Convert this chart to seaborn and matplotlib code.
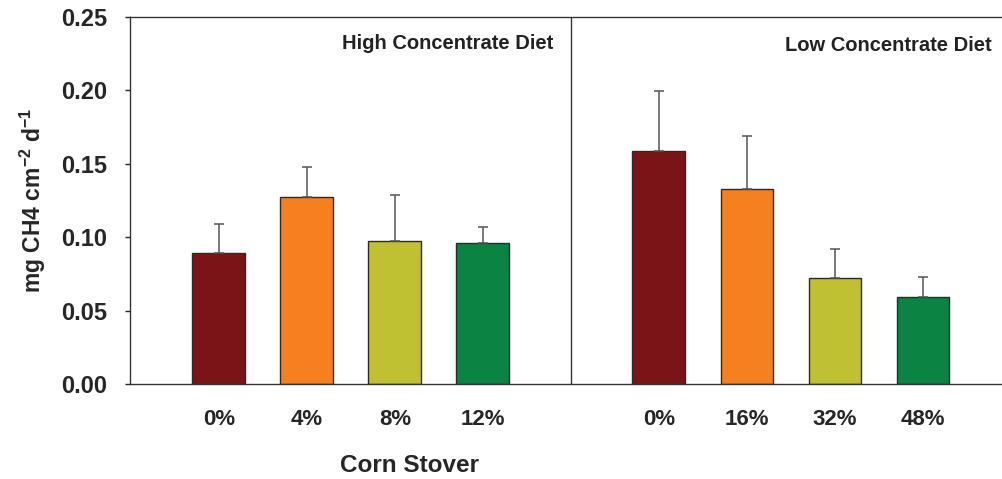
import pandas as pd
import matplotlib.pyplot as plt
import seaborn as sns

# values
diets = ["High Concentrate Diet", "Low Concentrate Diet"]
stover_high = ["0%", "4%", "8%", "12%"]
stover_low = ["0%", "16%", "32%", "48%"]
ch4_high = [0.0892, 0.1276, 0.0973, 0.0961]
ch4_low = [0.1589, 0.1326, 0.0721, 0.0591]
err_high = [0.0198, 0.0199, 0.0317, 0.0107]
err_low = [0.0406, 0.0361, 0.0199, 0.0135]

colors = ["#7B1416", "#F58020", "#BFC032", "#0B8343"]

rows = []
for g, (labels, vals, errs) in enumerate([(stover_high, ch4_high, err_high),
                                          (stover_low, ch4_low, err_low)]):
    for i, (lab, v, e) in enumerate(zip(labels, vals, errs)):
        rows.append({"diet": diets[g], "stover": lab, "level": i,
                     "pos": g * 5 + i, "ch4": v, "err": e})
df = pd.DataFrame(rows)

sns.set_style("ticks")
plt.rcParams['font.family'] = ['Liberation Sans', 'DejaVu Sans']
plt.rcParams['font.weight'] = 'bold'
plt.rcParams['mathtext.fontset'] = 'custom'
plt.rcParams['mathtext.rm'] = 'Liberation Sans:bold'
plt.rcParams['mathtext.bf'] = 'Liberation Sans:bold'
plt.rcParams['mathtext.default'] = 'rm'

fig = plt.figure(figsize=(10.03, 4.79), dpi=100)
ax = fig.add_axes([0.1296, 0.1983, 0.8704, 0.7662])

sns.barplot(data=df, x="pos", y="ch4", hue="level", palette=colors,
            native_scale=True, dodge=False, width=0.6, legend=False,
            saturation=1, edgecolor="#2a2a2a", linewidth=1, errorbar=None,
            ax=ax)

ax.errorbar(df["pos"], df["ch4"], yerr=[[0] * len(df), df["err"]],
            fmt="none", ecolor="#555555", elinewidth=1.1, capsize=3.6,
            capthick=1.1, zorder=1)

ax.axvline(4, color="#333333", lw=1)

ax.set_xlim(-1.01, 8.91)
ax.set_ylim(0, 0.25)
ax.set_yticks([0, 0.05, 0.10, 0.15, 0.20, 0.25])
ax.set_yticklabels(["0.00", "0.05", "0.10", "0.15", "0.20", "0.25"])
ax.set_xticks(df["pos"])
ax.set_xticklabels(df["stover"])

ax.tick_params(axis="y", direction="out", length=3.5, width=1, pad=13,
               labelsize=17)
ax.tick_params(axis="x", length=0, pad=18, labelsize=16)
for lab in ax.get_xticklabels() + ax.get_yticklabels():
    lab.set_fontweight("bold")

for side in ["left", "bottom", "top"]:
    ax.spines[side].set_visible(True)
    ax.spines[side].set_color("#333333")
    ax.spines[side].set_linewidth(1)
ax.spines["right"].set_visible(False)

ax.set_ylabel(r"mg CH4 cm$^{-2}$ d$^{-1}$", fontsize=16.5,
              fontweight="bold", labelpad=9)
ax.set_xlabel("Corn Stover", fontsize=17.5, fontweight="bold", va="center")
ax.xaxis.set_label_coords(0.32, -0.222)

ax.text(3.8, 0.2322, diets[0], ha="right", va="center", fontsize=14.5,
        fontweight="bold", color="#222222")
ax.text(8.78, 0.2308, diets[1], ha="right", va="center", fontsize=14.5,
        fontweight="bold", color="#222222")

fig.savefig("out.png", dpi=100)
